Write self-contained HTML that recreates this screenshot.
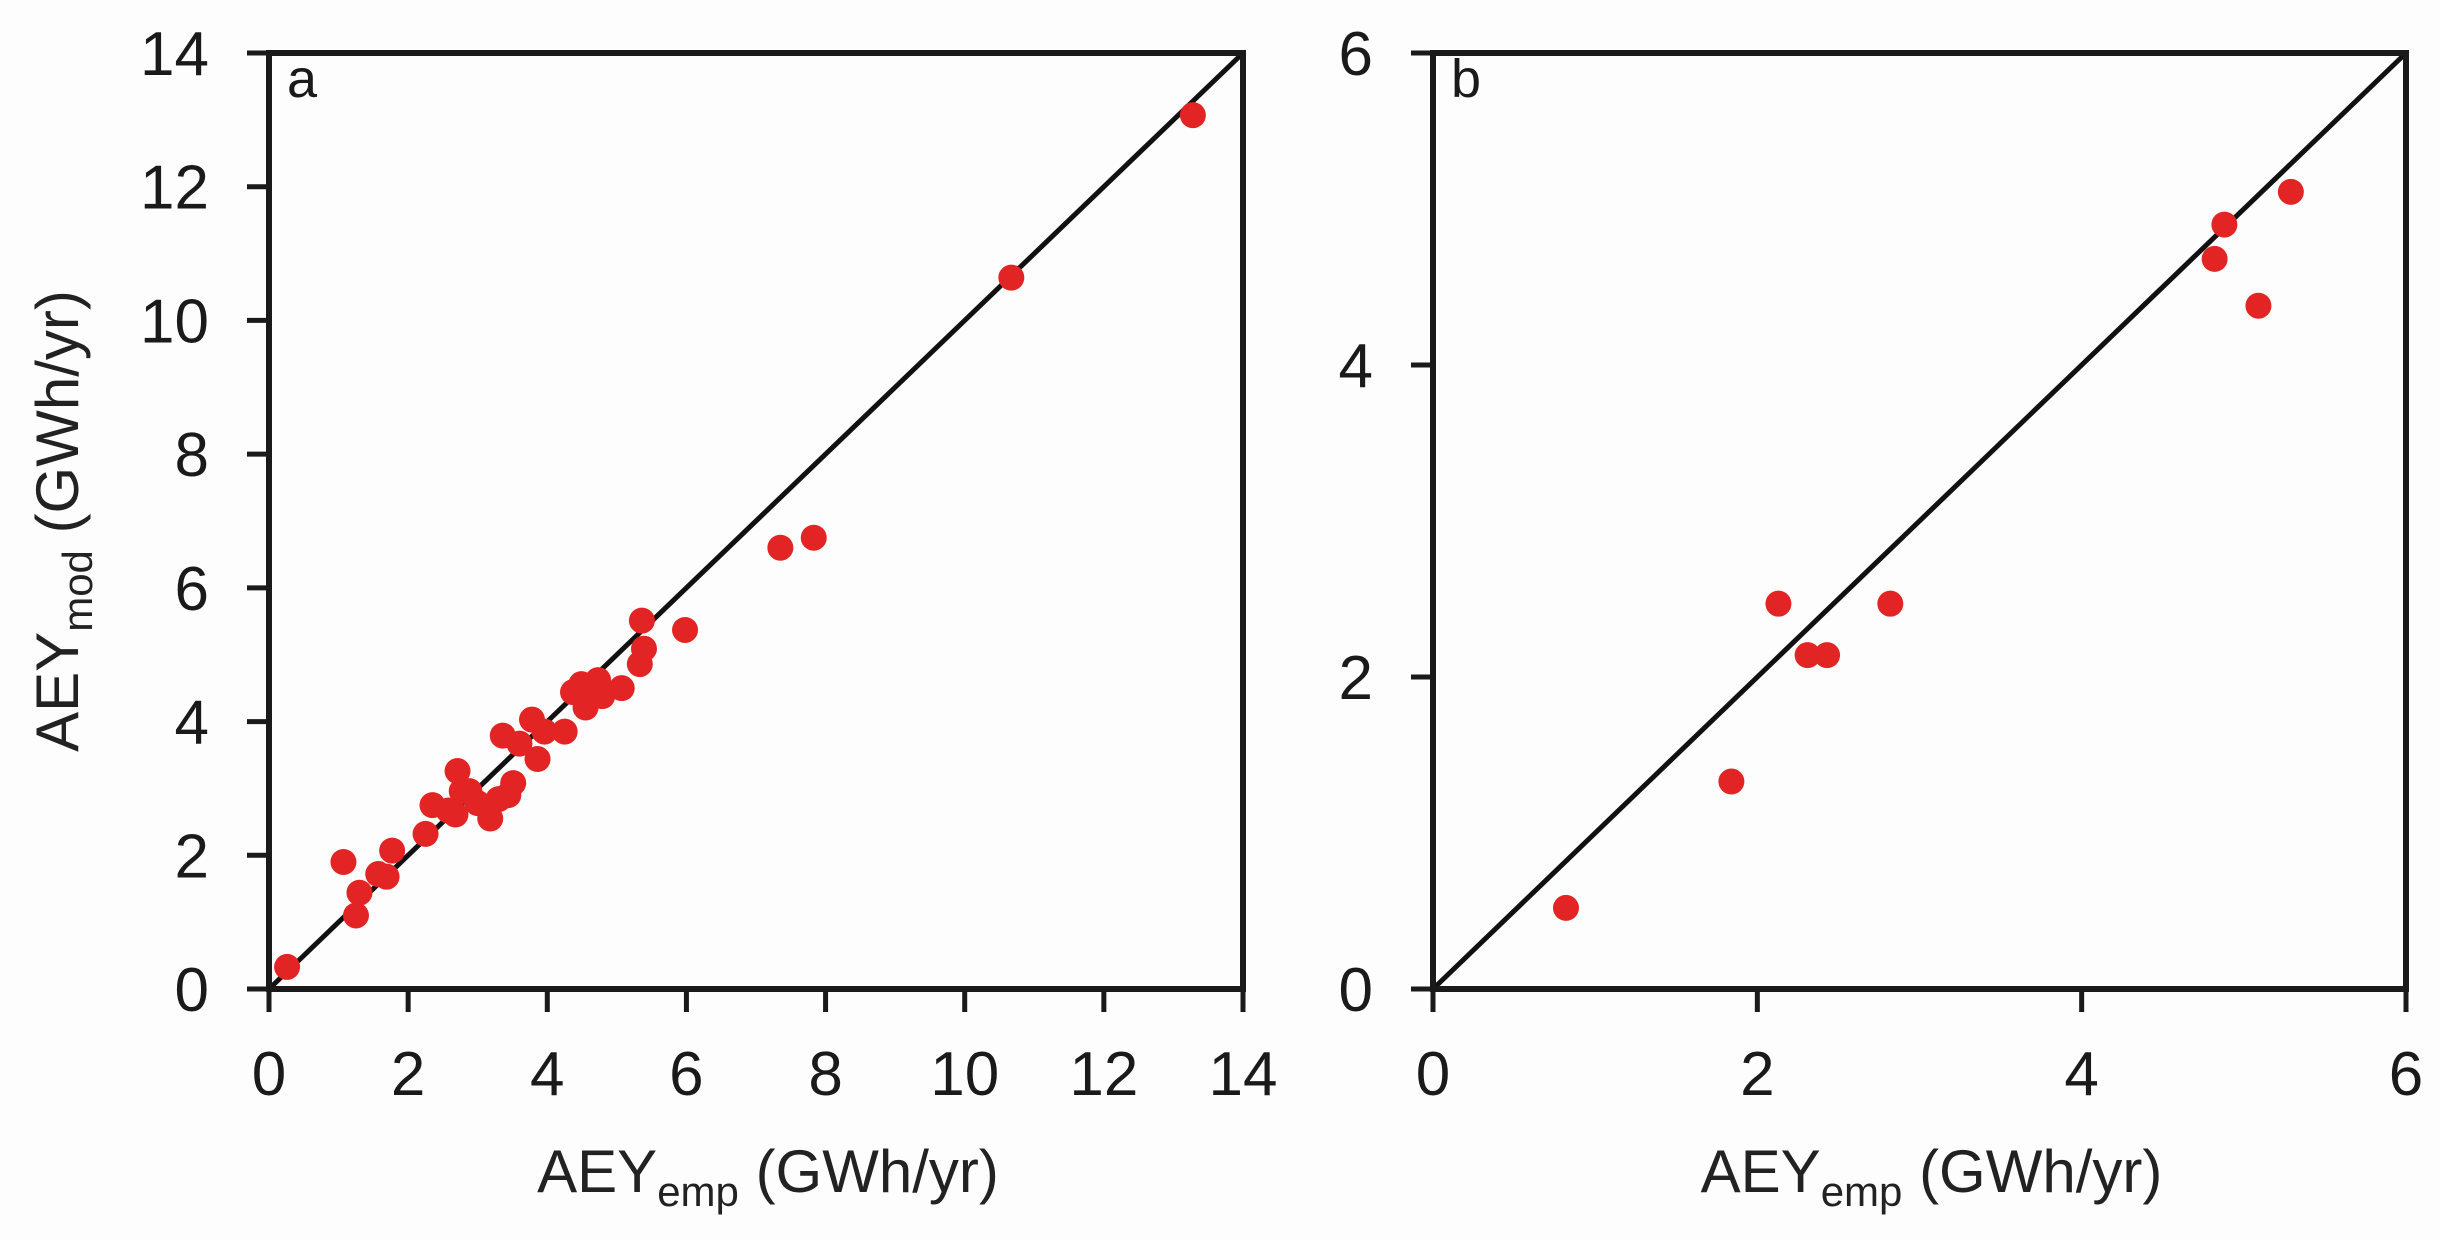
<!DOCTYPE html>
<html><head><meta charset="utf-8"><style>
html,body{margin:0;padding:0;background:#fdfdfd;}
svg{display:block;font-family:"Liberation Sans",sans-serif;}
</style></head><body>
<svg id="chart" width="2440" height="1240" viewBox="0 0 2440 1240" xmlns="http://www.w3.org/2000/svg">
<rect x="0" y="0" width="2440" height="1240" fill="#fdfdfd"/>
<g id="pa"></g>
<g id="pb"></g>
</svg>
<script>
const aEmp = [0.26,1.07,1.25,1.30,1.57,1.69,1.77,2.25,2.35,2.58,2.68,2.71,2.77,2.88,3.00,3.18,3.30,3.36,3.44,3.51,3.60,3.78,3.86,3.96,4.25,4.37,4.49,4.55,4.64,4.73,4.79,5.07,5.33,5.39,5.36,5.98,7.35,7.83,10.67,13.28];
const aMod = [0.33,1.90,1.10,1.44,1.72,1.68,2.07,2.32,2.75,2.67,2.61,3.26,2.96,2.96,2.78,2.55,2.84,3.79,2.90,3.08,3.67,4.03,3.44,3.85,3.85,4.44,4.56,4.21,4.50,4.62,4.38,4.50,4.86,5.09,5.51,5.37,6.60,6.75,10.64,13.07];
const bEmp = [0.82,1.84,2.13,2.31,2.43,2.82,4.82,4.88,5.09,5.29];
const bMod = [0.52,1.33,2.47,2.14,2.14,2.47,4.68,4.90,4.38,5.11];
const aTicks = [0,2,4,6,8,10,12,14];
const bTicks = [0,2,4,6];
const NS = "http://www.w3.org/2000/svg";
function mk(parent, tag, attrs, text){
  const e = document.createElementNS(NS, tag);
  for (const k in attrs) e.setAttribute(k, attrs[k]);
  if (text !== undefined) e.textContent = text;
  parent.appendChild(e);
  return e;
}
function panel(g, L, R, T, B, max, ticks, xs, ys, letter, showY){
  const sx = v => L + (v/max)*(R-L);
  const sy = v => B - (v/max)*(B-T);
  const d = mk(g,'line',{x1:sx(0),y1:sy(0),x2:sx(max),y2:sy(max),stroke:'#111','stroke-width':5});
  
  
  for (let i=0;i<xs.length;i++){
    const c = mk(g,'circle',{cx:sx(xs[i]),cy:sy(ys[i]),r:13,fill:'#e32424'});
    
    
  }
  const f = mk(g,'rect',{x:L,y:T,width:R-L,height:B-T,fill:'none',stroke:'#1a1a1a','stroke-width':6});
  
  
  for (const t of ticks){
    const xt = mk(g,'line',{x1:sx(t),y1:B,x2:sx(t),y2:B+23,stroke:'#1a1a1a','stroke-width':5});
    
    
    const xl = mk(g,'text',{x:sx(t),y:B+106,'text-anchor':'middle','font-size':62,fill:'#1a1a1a'},String(t));
    
    
    const yt = mk(g,'line',{x1:L-22,y1:sy(t),x2:L,y2:sy(t),stroke:'#1a1a1a','stroke-width':5});
    
    
    const yl = mk(g,'text',{x:L-60,y:sy(t)+22,'text-anchor':'end','font-size':62,fill:'#1a1a1a'},String(t));
    
    
  }
  const lt = mk(g,'text',{x:L+18,y:T+44,'font-size':54,fill:'#1a1a1a'},letter);
  
  
  const xt = mk(g,'text',{x:(L+R)/2+12,y:1192,'text-anchor':'middle','font-size':60,fill:'#222'});
  
  
  mk(xt,'tspan',{},'AEY');
  mk(xt,'tspan',{'font-size':42,dy:14},'emp');
  mk(xt,'tspan',{dy:-14},' (GWh/yr)');
  if (showY){
    const cy = (T+B)/2;
    const yt = mk(g,'text',{x:0,y:0,'text-anchor':'middle','font-size':60,fill:'#222',transform:`translate(78,${cy}) rotate(-90)`});
    
    
    mk(yt,'tspan',{},'AEY');
    mk(yt,'tspan',{'font-size':42,dy:14},'mod');
    mk(yt,'tspan',{dy:-14},' (GWh/yr)');
  }
}
panel(document.getElementById('pa'), 269, 1243, 53, 989, 14, aTicks, aEmp, aMod, 'a', true);
panel(document.getElementById('pb'), 1433, 2406, 53, 989, 6, bTicks, bEmp, bMod, 'b', false);
</script>
</body></html>
